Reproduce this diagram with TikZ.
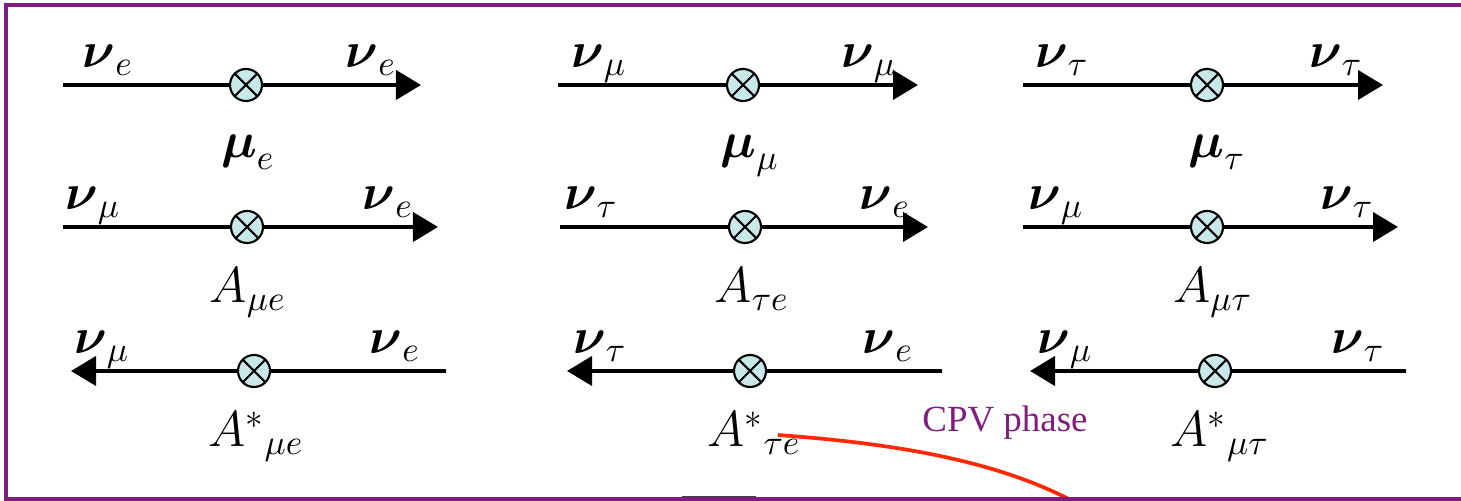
\documentclass[tikz,border=0pt]{standalone}
\usepackage{amsmath}
\usepackage{fontspec}
\setmainfont{Liberation Serif}
\usetikzlibrary{arrows.meta}
\definecolor{framepurple}{RGB}{128,30,128}
\definecolor{vertexcyan} {RGB}{200,232,234}
\definecolor{phasered}   {RGB}{255,40,0}
\newcommand{\bnu}{\boldsymbol{\nu}}
\newcommand{\bmu}{\boldsymbol{\mu}}

\begin{document}
\begin{tikzpicture}[
  x=0.01cm, y=-0.01cm,
  font=\fontsize{14}{16}\selectfont,
  vtx/.style={circle, draw=black, fill=vertexcyan, minimum size=0.32cm,
              inner sep=0pt, line width=0.6pt,
              path picture={\draw[line width=0.6pt]
                (path picture bounding box.north west) -- (path picture bounding box.south east)
                (path picture bounding box.north east) -- (path picture bounding box.south west);}},
  fl/.style ={line width=1.15pt},
  fla/.style={fl, -{Triangle[length=0.25cm, width=0.29cm]}},
  lbl/.style={anchor=base, inner sep=0pt},
  frame/.style={draw=framepurple, line width=1.15pt},
  phase/.style={draw=phasered, line width=1.05pt},
]
\useasboundingbox (0,0) rectangle (1461,501);

%-- ROW 1: diagonal moments
\coordinate (s11) at (63,85);   \node[vtx] (v11) at (246,85)  {}; \coordinate (e11) at (421,85);
\coordinate (s12) at (558,85);  \node[vtx] (v12) at (743,85)  {}; \coordinate (e12) at (918,85);
\coordinate (s13) at (1023,85); \node[vtx] (v13) at (1207,85) {}; \coordinate (e13) at (1383,85);
\draw[fl] (s11) -- (v11); \draw[fla] (v11) -- (e11);
\draw[fl] (s12) -- (v12); \draw[fla] (v12) -- (e12);
\draw[fl] (s13) -- (v13); \draw[fla] (v13) -- (e13);

\node[lbl] (a11) at (108,68)   {$\bnu_e$};
\node[lbl] (b11) at (371,68)   {$\bnu_e$};
\node[lbl] (m11) at (248,158)  {$\bmu_e$};
\node[lbl] (a12) at (599,68)   {$\bnu_\mu$};
\node[lbl] (b12) at (869,68)   {$\bnu_\mu$};
\node[lbl] (m12) at (750,158)  {$\bmu_\mu$};
\node[lbl] (a13) at (1062,68)  {$\bnu_\tau$};
\node[lbl] (b13) at (1336,68)  {$\bnu_\tau$};
\node[lbl] (m13) at (1217,158) {$\bmu_\tau$};

%-- ROW 2: transition moments
\coordinate (s21) at (63,227);   \node[vtx] (v21) at (247,227)  {}; \coordinate (e21) at (438,227);
\coordinate (s22) at (560,227);  \node[vtx] (v22) at (745,227)  {}; \coordinate (e22) at (928,227);
\coordinate (s23) at (1023,227); \node[vtx] (v23) at (1207,227) {}; \coordinate (e23) at (1398,227);
\draw[fl] (s21) -- (v21); \draw[fla] (v21) -- (e21);
\draw[fl] (s22) -- (v22); \draw[fla] (v22) -- (e22);
\draw[fl] (s23) -- (v23); \draw[fla] (v23) -- (e23);

\node[lbl] (a21) at (93,210)   {$\bnu_\mu$};
\node[lbl] (b21) at (388,210)  {$\bnu_e$};
\node[lbl] (m21) at (248,303)  {$A_{\mu e}$};
\node[lbl] (a22) at (591,210)  {$\bnu_\tau$};
\node[lbl] (b22) at (885,210)  {$\bnu_e$};
\node[lbl] (m22) at (752,303)  {$A_{\tau e}$};
\node[lbl] (a23) at (1056,210) {$\bnu_\mu$};
\node[lbl] (b23) at (1347,210) {$\bnu_\tau$};
\node[lbl] (m23) at (1213,303) {$A_{\mu\tau}$};

%-- ROW 3: reversed, conjugate
\coordinate (s31) at (71,371);   \node[vtx] (v31) at (254,371)  {}; \coordinate (e31) at (446,371);
\coordinate (s32) at (567,371);  \node[vtx] (v32) at (750,371)  {}; \coordinate (e32) at (942,371);
\coordinate (s33) at (1030,371); \node[vtx] (v33) at (1215,371) {}; \coordinate (e33) at (1406,371);
\draw[fl] (e31) -- (v31); \draw[fla] (v31) -- (s31);
\draw[fl] (e32) -- (v32); \draw[fla] (v32) -- (s32);
\draw[fl] (e33) -- (v33); \draw[fla] (v33) -- (s33);

\node[lbl] (a31) at (102,354)  {$\bnu_\mu$};
\node[lbl] (b31) at (395,354)  {$\bnu_e$};
\node[lbl] (m31) at (256,447)  {$A^{*}{}_{\mu e}$};
\node[lbl] (a32) at (600,354)  {$\bnu_\tau$};
\node[lbl] (b32) at (888,354)  {$\bnu_e$};
\node[lbl] (m32) at (754,447)  {$A^{*}{}_{\tau e}$};
\node[lbl] (a33) at (1065,354) {$\bnu_\mu$};
\node[lbl] (b33) at (1358,354) {$\bnu_\tau$};
\node[lbl] (m33) at (1220,447) {$A^{*}{}_{\mu\tau}$};

%-- CPV phase pointer
\node[lbl, text=framepurple, font=\fontsize{10.5}{12}\selectfont] (cpv) at (1005,432) {CPV phase};
\coordinate (cpv0) at (778,435);
\coordinate (cpv1) at (1092,512);
\draw[phase] (cpv0) .. controls (900,444) and (1010,462) .. (cpv1);

%-- frame
\draw[draw=black!75, fill=gray!8, line width=0.4pt] (683,497) rectangle (755,520);
\draw[frame] (1475,5) -- (6,5) -- (6,499) -- (1475,499);

\end{tikzpicture}
\end{document}
